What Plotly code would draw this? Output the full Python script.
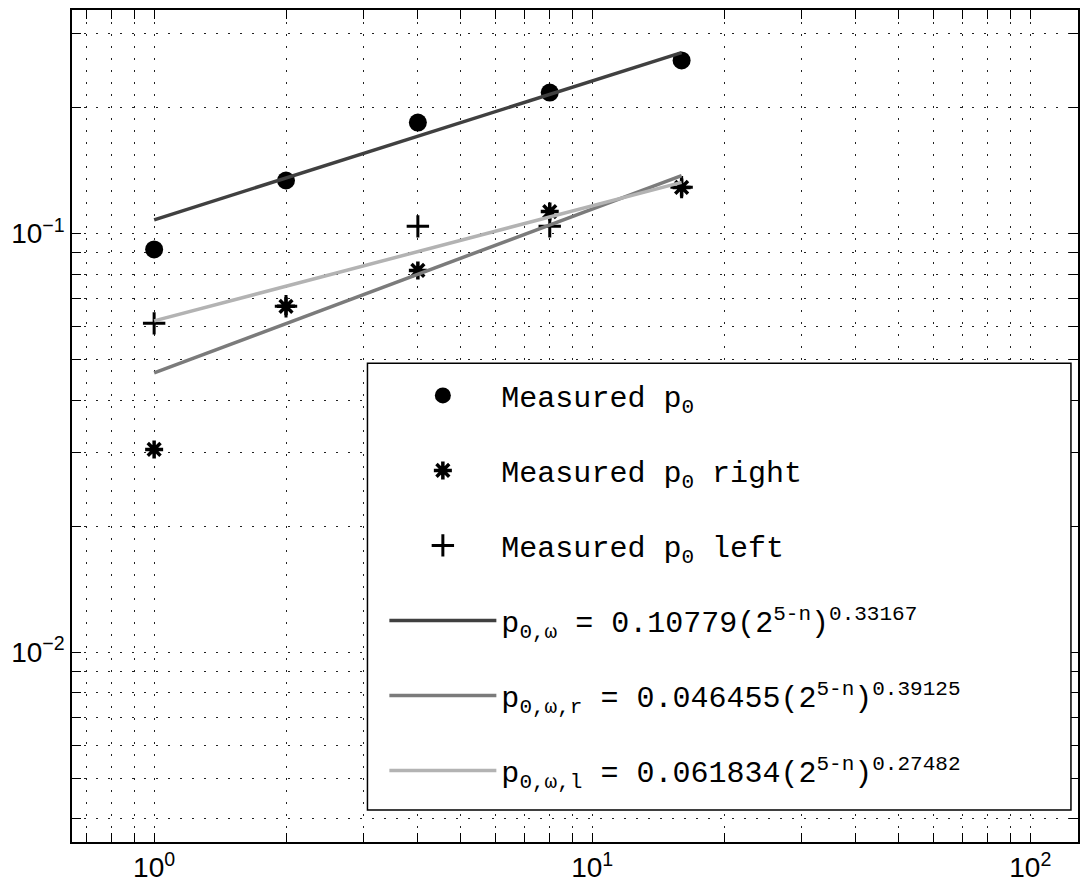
import plotly.graph_objects as go

# Sample sizes (2^(5-n)) and measured values
x_vals = [1, 2, 4, 8, 16]
p0_measured = [0.0916, 0.1338, 0.184, 0.217, 0.259]
p0_right = [0.0305, 0.067, 0.0816, 0.1128, 0.1288]
p0_left = [0.061, 0.067, 0.104, 0.104, 0.129]

# Power-law fits p = a * (2^(5-n))^b
fit_a = [0.10779, 0.046455, 0.061834]
fit_b = [0.33167, 0.39125, 0.27482]
fit_names = [
    "p<sub>0,ω</sub> = 0.10779(2<sup>5-n</sup>)<sup>0.33167</sup>",
    "p<sub>0,ω,r</sub> = 0.046455(2<sup>5-n</sup>)<sup>0.39125</sup>",
    "p<sub>0,ω,l</sub> = 0.061834(2<sup>5-n</sup>)<sup>0.27482</sup>",
]
fit_colors = ["#404040", "#7b7b7b", "#b3b3b3"]

x_tickvals = [1, 10, 100]
x_ticktext = ["10<sup>0</sup>", "10<sup>1</sup>", "10<sup>2</sup>"]
y_tickvals = [0.01, 0.1]
y_ticktext = ["10<sup>−2</sup>", "10<sup>−1</sup>"]

minor_vals = [m * 10.0 ** k for k in range(-4, 3) for m in range(2, 10)]

fig = go.Figure()

fig.add_trace(go.Scatter(
    x=x_vals, y=p0_measured, mode="markers", name="Measured p<sub>0</sub>",
    legendgroup="g1",
    marker=dict(symbol="circle", size=18, color="black"),
))
fig.add_trace(go.Scatter(
    x=x_vals, y=p0_right, mode="markers", name="Measured p<sub>0</sub> right",
    legendgroup="g2",
    marker=dict(symbol="asterisk-open", size=15, color="black",
                line=dict(color="black", width=3.5)),
))
fig.add_trace(go.Scatter(
    x=x_vals, y=p0_left, mode="markers", name="Measured p<sub>0</sub> left",
    legendgroup="g3",
    marker=dict(symbol="cross-thin-open", size=16, color="black",
                line=dict(color="black", width=3)),
))

for i, (a, b) in enumerate(zip(fit_a, fit_b)):
    fig.add_trace(go.Scatter(
        x=x_vals, y=[a * x ** b for x in x_vals], mode="lines",
        name=fit_names[i], legendgroup=f"f{i}",
        line=dict(color=fit_colors[i], width=3.5),
    ))

axis_common = dict(
    type="log",
    showline=True, linecolor="black", linewidth=1.5, mirror="ticks",
    ticks="inside", ticklen=9, tickwidth=1.2, tickcolor="black",
    showgrid=True, gridcolor="#222222", gridwidth=1, griddash="2px,10px",
    zeroline=False,
    tickfont=dict(family="Liberation Sans, Arial, sans-serif", size=28, color="black"),
    tickmode="array",
    minor=dict(tickmode="array", tickvals=minor_vals, ticks="inside", ticklen=9,
               tickcolor="black", showgrid=True, gridcolor="#222222",
               gridwidth=1, griddash="2px,10px"),
)

fig.update_xaxes(**axis_common, range=[-0.1875, 2.109],
                 tickvals=x_tickvals, ticktext=x_ticktext)
fig.update_yaxes(**axis_common, range=[-2.4534, -0.4663],
                 tickvals=y_tickvals, ticktext=y_ticktext)

# Legend frame
fig.add_shape(type="rect", xref="paper", yref="paper",
              x0=0.2937, x1=0.993, y0=0.0384, y1=0.5755,
              line=dict(color="black", width=1.5), fillcolor="white",
              layer="above")

fig.update_layout(
    width=1087, height=890,
    margin=dict(l=72, r=7, t=10, b=46),
    paper_bgcolor="white", plot_bgcolor="white",
    showlegend=True,
    legend=dict(
        x=0.3105, y=0.568, xanchor="left", yanchor="top",
        bgcolor="rgba(0,0,0,0)", borderwidth=0,
        font=dict(family="Liberation Mono, Courier New, monospace", size=30, color="black"),
        traceorder="grouped", tracegroupgap=33, itemwidth=107,
    ),
)

fig.write_html("out.html")
